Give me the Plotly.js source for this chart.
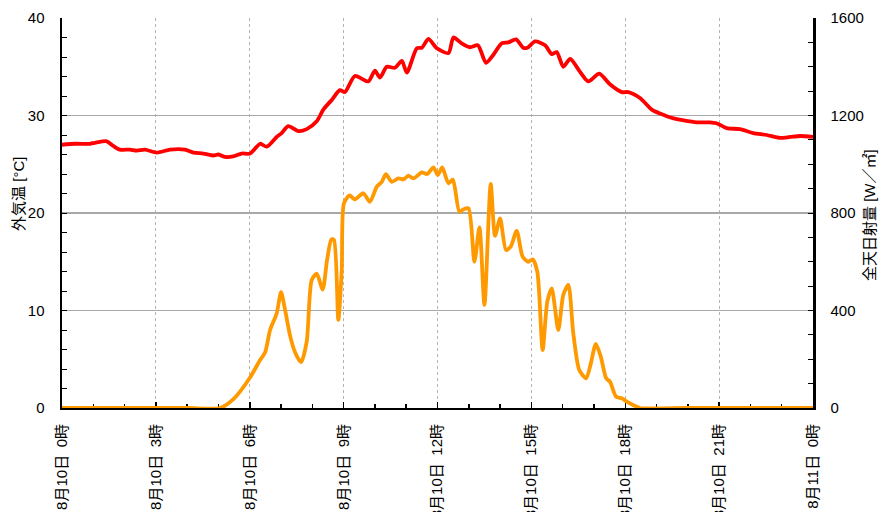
<!DOCTYPE html>
<html>
<head>
<meta charset="utf-8">
<script src="https://cdn.plot.ly/plotly-3.0.1.min.js"></script>
<style>html,body{margin:0;padding:0;background:#fff;}#chart{width:882px;height:512px;}</style>
</head>
<body>
<div id="chart"></div>
<script>
// Time in hours from 8/10 0:00
const tempHours = [0.00,0.42,0.89,1.05,1.43,1.63,1.85,2.17,2.39,2.65,3.03,3.45,3.93,4.20,4.52,4.84,5.00,5.21,5.47,5.74,6.01,6.33,6.54,6.86,7.02,7.23,7.55,7.82,8.14,8.35,8.62,8.88,9.04,9.36,9.79,10.00,10.16,10.38,10.64,10.86,11.02,11.34,11.50,11.71,11.98,12.35,12.51,12.77,13.04,13.29,13.55,13.78,14.05,14.26,14.51,14.74,14.87,15.12,15.44,15.65,15.81,16.02,16.24,16.55,16.82,17.17,17.51,17.89,18.10,18.47,18.85,19.11,19.54,19.86,20.28,20.71,20.92,21.24,21.67,22.09,22.52,22.94,23.27,23.59,24.00];
const tempValues = [27.0,27.1,27.1,27.2,27.35,26.9,26.5,26.5,26.4,26.5,26.2,26.5,26.5,26.2,26.1,25.9,26.0,25.75,25.8,26.1,26.1,27.1,26.8,27.8,28.2,28.9,28.4,28.6,29.4,30.6,31.6,32.6,32.4,34.05,33.5,34.6,33.9,35.0,34.9,35.6,34.4,36.9,36.95,37.85,36.9,36.4,38.0,37.4,37.0,37.2,35.4,36.2,37.4,37.5,37.8,36.95,36.95,37.6,37.2,36.3,36.5,35.0,35.8,34.5,33.5,34.3,33.2,32.4,32.4,31.8,30.6,30.2,29.7,29.5,29.3,29.3,29.2,28.7,28.6,28.2,28.0,27.7,27.8,27.9,27.8];

const solarHours = [0,2,4,5.05,5.47,6.01,6.33,6.49,6.65,6.86,7.00,7.13,7.29,7.45,7.64,7.82,7.98,8.14,8.33,8.47,8.61,8.69,8.83,8.94,9.01,9.19,9.36,9.63,9.84,10.06,10.22,10.35,10.54,10.75,10.91,11.07,11.23,11.50,11.67,11.87,12.01,12.15,12.35,12.49,12.70,12.83,12.99,13.18,13.34,13.50,13.70,13.84,14.00,14.19,14.34,14.53,14.72,14.90,15.04,15.19,15.36,15.51,15.65,15.86,16.02,16.18,16.34,16.53,16.75,16.90,17.06,17.22,17.39,17.51,17.71,17.89,18.05,18.37,18.47,20,22,24];
const solarValues = [0,0,0,0,35,125,197,228,320,388,475,402,296,228,188,272,525,551,486,607,692,690,362,566,840,872,856,881,846,908,928,959,928,942,938,953,942,967,960,987,956,987,922,937,805,815,819,600,741,423,919,706,778,648,662,727,621,600,610,559,238,437,491,320,464,505,306,156,122,183,263,210,122,108,46,40,26,5,0,0,0,0];

const tickHours = [0,3,6,9,12,15,18,21,24];
const tickLabels = ['8月10日\u20020時','8月10日\u20023時','8月10日\u20026時','8月10日\u20029時','8月10日\u200212時','8月10日\u200215時','8月10日\u200218時','8月10日\u200221時','8月11日\u20020時'];

const FONT = 'Liberation Sans, Arial, "Noto Sans CJK JP", sans-serif';

const traces = [
  {x: solarHours, y: solarValues, yaxis: 'y2', type: 'scatter', mode: 'lines',
   line: {color: '#FF9900', width: 3.8, shape: 'spline', smoothing: 0.7}, hoverinfo: 'skip'},
  {x: tempHours, y: tempValues, yaxis: 'y', type: 'scatter', mode: 'lines',
   line: {color: '#FF0000', width: 3.8, shape: 'spline', smoothing: 0.7}, hoverinfo: 'skip'}
];

const layout = {
  width: 882, height: 512,
  margin: {l: 62, r: 69, t: 18, b: 104},
  paper_bgcolor: '#ffffff', plot_bgcolor: '#ffffff',
  showlegend: false,
  font: {family: FONT, size: 14, color: '#000'},
  xaxis: {
    range: [0, 24], tickvals: tickHours, ticktext: tickLabels, tickangle: -90,
    showgrid: true, gridcolor: '#b4b4b4', griddash: '3px,3px', gridwidth: 1.2,
    showline: true, linecolor: '#000', linewidth: 2,
    ticks: 'inside', ticklen: 6, tickcolor: '#000', tickwidth: 1.5,
    minor: {dtick: 1, tick0: 0, ticks: 'inside', ticklen: 4, tickcolor: '#000', showgrid: false},
    ticklabelstandoff: 8, zeroline: false, fixedrange: true,
    tickfont: {family: FONT, size: 15, color: '#000'}, layer: 'below traces'
  },
  yaxis: {
    range: [0, 40], tickvals: [0,10,20,30,40],
    showgrid: true, gridcolor: '#a8a8a8', gridwidth: 1.2,
    showline: true, linecolor: '#000', linewidth: 2.5,
    ticks: 'inside', ticklen: 5, tickcolor: '#000',
    minor: {dtick: 2, tick0: 0, ticks: 'inside', ticklen: 5, tickcolor: '#000', showgrid: false},
    ticklabelstandoff: 12, zeroline: false, fixedrange: true,
    tickfont: {family: FONT, size: 15, color: '#000'}, layer: 'below traces'
  },
  yaxis2: {
    range: [0, 1600], tickvals: [0,400,800,1200,1600], overlaying: 'y', side: 'right',
    showgrid: false, showline: true, linecolor: '#000', linewidth: 2.5,
    ticks: 'inside', ticklen: 5, tickcolor: '#000',
    minor: {dtick: 100, tick0: 0, ticks: 'inside', ticklen: 5, tickcolor: '#000', showgrid: false},
    ticklabelstandoff: 12, zeroline: false, fixedrange: true,
    tickfont: {family: FONT, size: 15, color: '#000'}, layer: 'below traces'
  },
  annotations: [
    {text: '外気温 [°C]', xref: 'paper', yref: 'paper', x: -0.058, y: 0.55, xanchor: 'center', yanchor: 'middle',
     textangle: -90, showarrow: false, font: {family: FONT, size: 15, color: '#000'}},
    {text: '全天日射量 [W／㎡]', xref: 'paper', yref: 'paper', x: 1.076, y: 0.495, xanchor: 'center', yanchor: 'middle',
     textangle: -90, showarrow: false, font: {family: FONT, size: 15, color: '#000'}}
  ]
};

Plotly.newPlot('chart', traces, layout, {staticPlot: true, displayModeBar: false});
</script>
</body>
</html>
